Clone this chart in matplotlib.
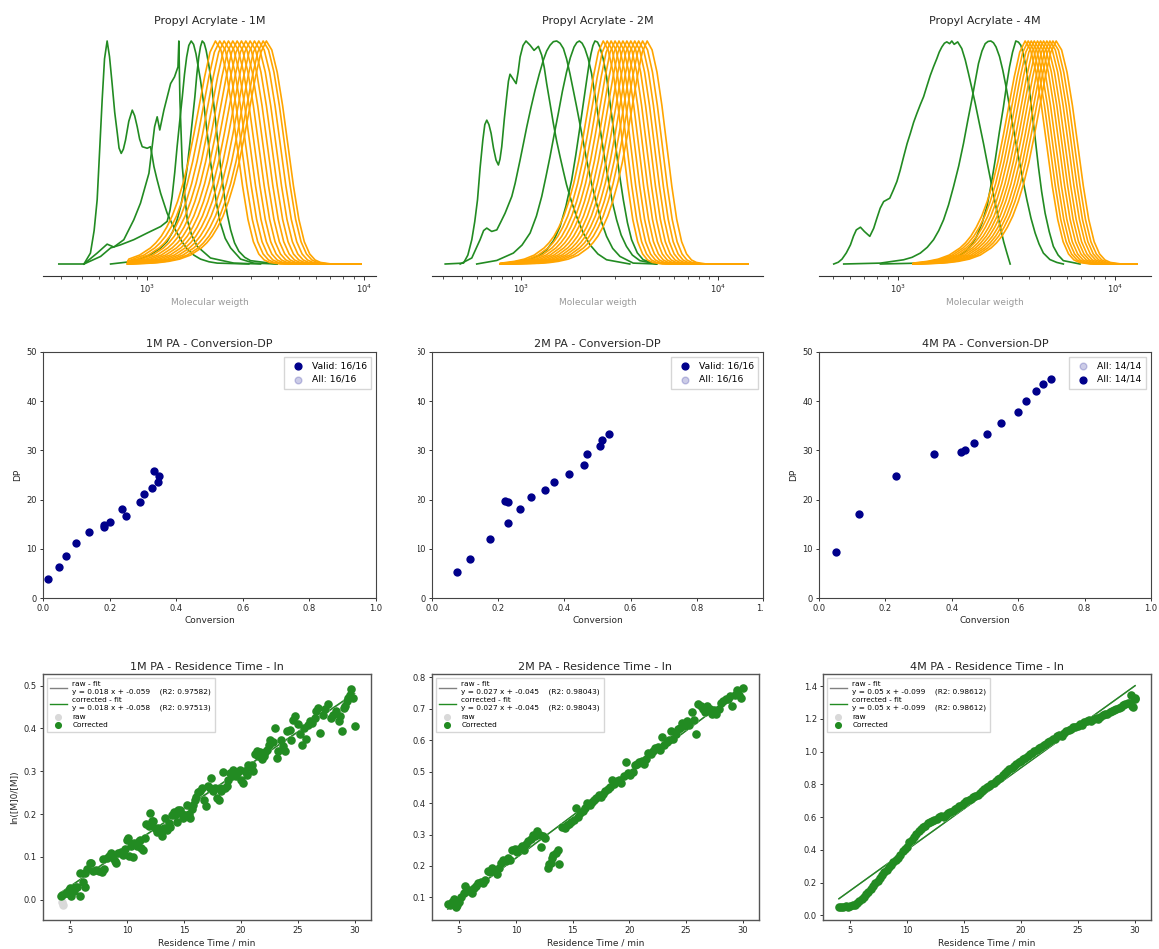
import numpy as np
import matplotlib
matplotlib.use("Agg")
import matplotlib.pyplot as plt
from matplotlib.ticker import NullFormatter, MultipleLocator
from matplotlib.patches import Rectangle

# ------------------------------------------------------------------ data
concs = ["1M", "2M", "4M"]

# --- GPC traces (x = log10 Mw, y = normalised height)
# common shape of the late (orange) traces, offsets in decades from peak
prof_off = [-0.80, -0.55, -0.50, -0.45, -0.40, -0.35, -0.30, -0.275, -0.25, -0.225, -0.20,
            -0.175, -0.15, -0.125, -0.10, -0.075, -0.05, -0.025, 0.0, 0.025, 0.05, 0.075,
            0.10, 0.125, 0.15, 0.175, 0.20, 0.225, 0.25, 0.30, 0.80]
prof_h = [0.0, 0.003, 0.006, 0.012, 0.022, 0.040, 0.072, 0.095, 0.125, 0.165, 0.215,
          0.28, 0.36, 0.46, 0.58, 0.71, 0.84, 0.95, 1.0, 0.96, 0.86, 0.71,
          0.53, 0.35, 0.20, 0.10, 0.045, 0.018, 0.007, 0.0, 0.0]

orange_peaks_1M = [3.315, 3.335, 3.355, 3.375, 3.395, 3.415, 3.435, 3.455, 3.475,
                   3.495, 3.515, 3.535, 3.550]
orange_peaks_2M = [3.417, 3.437, 3.457, 3.477, 3.497, 3.517, 3.537, 3.557, 3.577,
                   3.597, 3.617, 3.640]
orange_peaks_4M = [3.586, 3.600, 3.614, 3.628, 3.643, 3.657, 3.671, 3.686, 3.700,
                   3.714, 3.729]
orange_range_1M = [2.91, 3.985]
orange_range_2M = [2.894, 4.152]
orange_range_4M = [3.07, 4.10]

g1M_a = [(2.592, 0), (2.708, 0), (2.738, 0.049), (2.755, 0.15), (2.769, 0.288), (2.781, 0.52),
         (2.792, 0.735), (2.803, 0.92), (2.815, 1.0), (2.826, 0.93), (2.838, 0.809), (2.850, 0.68),
         (2.862, 0.586), (2.870, 0.52), (2.880, 0.496), (2.890, 0.515), (2.900, 0.556), (2.915, 0.64),
         (2.931, 0.690), (2.942, 0.665), (2.954, 0.615), (2.965, 0.56), (2.977, 0.526), (3.000, 0.519),
         (3.015, 0.526), (3.022, 0.49), (3.031, 0.437), (3.045, 0.38), (3.062, 0.317), (3.092, 0.228),
         (3.115, 0.18), (3.138, 0.139), (3.160, 0.10), (3.185, 0.067), (3.215, 0.04), (3.246, 0.022),
         (3.285, 0.01), (3.323, 0.004), (3.469, 0)]
g1M_b = [(2.708, 0), (2.769, 0.049), (2.815, 0.089), (2.846, 0.076), (2.892, 0.109),
         (2.938, 0.198), (2.969, 0.273), (3.008, 0.407), (3.022, 0.52), (3.034, 0.615), (3.046, 0.660),
         (3.058, 0.601), (3.077, 0.690), (3.108, 0.809), (3.126, 0.839), (3.142, 0.884),
         (3.146, 1.0), (3.151, 0.735), (3.162, 0.437), (3.175, 0.29), (3.185, 0.198), (3.205, 0.13),
         (3.231, 0.079), (3.292, 0.027), (3.400, 0.004), (3.523, 0)]
g1M_c = [(2.708, 0), (2.785, 0.034), (2.831, 0.072), (2.877, 0.086), (2.938, 0.109),
         (3.000, 0.139), (3.062, 0.168), (3.092, 0.191), (3.105, 0.24), (3.115, 0.303), (3.127, 0.41),
         (3.138, 0.526), (3.150, 0.64), (3.162, 0.750), (3.172, 0.85), (3.182, 0.928), (3.192, 0.98),
         (3.203, 1.0), (3.214, 0.985), (3.225, 0.943), (3.246, 0.824), (3.262, 0.71),
         (3.277, 0.586), (3.292, 0.46), (3.308, 0.347), (3.323, 0.255), (3.338, 0.183), (3.360, 0.115),
         (3.385, 0.072), (3.431, 0.022), (3.492, 0.004), (3.600, 0)]
g1M_d = [(2.831, 0), (2.938, 0.012), (3.015, 0.042), (3.060, 0.07), (3.092, 0.101), (3.118, 0.145),
         (3.138, 0.198), (3.155, 0.26), (3.169, 0.332), (3.184, 0.43), (3.197, 0.541), (3.209, 0.65),
         (3.220, 0.750), (3.229, 0.85), (3.238, 0.928), (3.246, 0.975), (3.254, 1.0), (3.263, 0.99),
         (3.272, 0.958), (3.283, 0.90), (3.295, 0.824), (3.309, 0.70), (3.323, 0.571), (3.338, 0.44),
         (3.354, 0.317), (3.370, 0.22), (3.385, 0.153), (3.403, 0.095),
         (3.423, 0.057), (3.450, 0.03), (3.477, 0.015), (3.600, 0)]

g2M_a = [(2.615, 0), (2.708, 0.004), (2.730, 0.04), (2.750, 0.109), (2.765, 0.19), (2.779, 0.288),
         (2.792, 0.43), (2.806, 0.556), (2.816, 0.625), (2.826, 0.645), (2.837, 0.625),
         (2.848, 0.586), (2.860, 0.52), (2.873, 0.466), (2.885, 0.444), (2.893, 0.47), (2.902, 0.526),
         (2.915, 0.65), (2.927, 0.750), (2.936, 0.82), (2.944, 0.851), (2.958, 0.832),
         (2.975, 0.809), (2.985, 0.86), (2.995, 0.928), (3.010, 0.98),
         (3.025, 1.0), (3.046, 0.981), (3.066, 0.958), (3.088, 0.976), (3.105, 0.936),
         (3.118, 0.88), (3.130, 0.809), (3.147, 0.72), (3.164, 0.630), (3.181, 0.55), (3.198, 0.481),
         (3.215, 0.415), (3.231, 0.355), (3.256, 0.28), (3.282, 0.213), (3.315, 0.14),
         (3.350, 0.086), (3.390, 0.045), (3.434, 0.019), (3.552, 0)]
g2M_b = [(2.691, 0), (2.750, 0.027), (2.792, 0.109), (2.810, 0.15), (2.826, 0.161), (2.851, 0.146),
         (2.877, 0.153), (2.898, 0.19), (2.919, 0.228), (2.953, 0.303), (2.970, 0.362), (2.995, 0.466),
         (3.012, 0.54), (3.029, 0.615), (3.050, 0.70), (3.071, 0.779), (3.092, 0.85), (3.113, 0.914),
         (3.130, 0.955), (3.147, 0.981), (3.164, 0.997), (3.181, 1.0), (3.198, 0.99),
         (3.215, 0.966), (3.231, 0.92), (3.248, 0.854), (3.265, 0.78), (3.282, 0.705), (3.308, 0.585),
         (3.333, 0.466), (3.358, 0.36), (3.383, 0.273), (3.408, 0.19),
         (3.434, 0.124), (3.465, 0.07), (3.502, 0.034), (3.569, 0.004), (3.688, 0)]
g2M_c = [(2.775, 0), (2.877, 0.016), (2.961, 0.049), (3.005, 0.085), (3.046, 0.139), (3.078, 0.215),
         (3.105, 0.303), (3.126, 0.39), (3.147, 0.481), (3.168, 0.58), (3.189, 0.675), (3.210, 0.775),
         (3.231, 0.861), (3.250, 0.925), (3.269, 0.973), (3.283, 0.993), (3.296, 1.0), (3.310, 0.99),
         (3.324, 0.966), (3.341, 0.92), (3.358, 0.854), (3.378, 0.74), (3.400, 0.615),
         (3.421, 0.49), (3.443, 0.377), (3.463, 0.28), (3.485, 0.198), (3.508, 0.13),
         (3.535, 0.079), (3.565, 0.04), (3.603, 0.015), (3.688, 0)]
g2M_d = [(2.894, 0), (3.046, 0.019), (3.090, 0.037), (3.130, 0.064), (3.165, 0.105), (3.198, 0.168),
         (3.228, 0.26), (3.257, 0.377), (3.278, 0.49), (3.299, 0.615), (3.316, 0.72),
         (3.333, 0.824), (3.344, 0.89), (3.355, 0.943), (3.365, 0.98), (3.375, 1.0), (3.388, 0.995),
         (3.400, 0.973), (3.417, 0.92), (3.434, 0.839), (3.455, 0.70), (3.476, 0.556), (3.498, 0.41),
         (3.519, 0.288), (3.540, 0.185), (3.561, 0.109), (3.590, 0.05), (3.620, 0.019), (3.688, 0)]

g4M_a = [(2.704, 0), (2.725, 0.008), (2.742, 0.022), (2.762, 0.05), (2.781, 0.086), (2.795, 0.125),
         (2.808, 0.153), (2.827, 0.165),
         (2.845, 0.146), (2.870, 0.124), (2.888, 0.16), (2.903, 0.206), (2.918, 0.25), (2.934, 0.280),
         (2.962, 0.295), (2.978, 0.33),
         (2.995, 0.370), (3.010, 0.42), (3.026, 0.481), (3.042, 0.54), (3.057, 0.586), (3.072, 0.635),
         (3.087, 0.675), (3.103, 0.715), (3.118, 0.750), (3.134, 0.80),
         (3.149, 0.846), (3.164, 0.885), (3.179, 0.921), (3.190, 0.95), (3.202, 0.973), (3.214, 0.99),
         (3.225, 0.996), (3.238, 0.988),
         (3.248, 1.0), (3.259, 0.985), (3.275, 0.996), (3.294, 0.966), (3.310, 0.915), (3.325, 0.854),
         (3.340, 0.79), (3.356, 0.720), (3.375, 0.63), (3.394, 0.541), (3.414, 0.44), (3.433, 0.347),
         (3.452, 0.255), (3.471, 0.168), (3.487, 0.10), (3.502, 0.049), (3.517, 0)]
g4M_b = [(2.750, 0), (2.919, 0.004), (3.026, 0.019), (3.065, 0.03), (3.103, 0.049), (3.135, 0.075),
         (3.164, 0.109), (3.188, 0.15),
         (3.210, 0.198), (3.233, 0.265), (3.256, 0.347), (3.280, 0.44), (3.302, 0.541), (3.321, 0.64),
         (3.340, 0.735), (3.356, 0.82), (3.371, 0.899), (3.387, 0.955),
         (3.402, 0.988), (3.415, 0.998), (3.428, 1.0), (3.440, 0.992), (3.452, 0.973), (3.468, 0.93),
         (3.483, 0.869), (3.500, 0.785), (3.517, 0.690), (3.536, 0.585),
         (3.555, 0.481), (3.575, 0.38), (3.594, 0.288), (3.613, 0.205), (3.632, 0.139), (3.650, 0.09),
         (3.670, 0.049), (3.700, 0.02), (3.732, 0.007), (3.762, 0)]
g4M_c = [(2.919, 0), (3.103, 0.004), (3.225, 0.019), (3.265, 0.03), (3.302, 0.049), (3.335, 0.08),
         (3.363, 0.124), (3.388, 0.185),
         (3.410, 0.258), (3.430, 0.36), (3.448, 0.466), (3.467, 0.59), (3.486, 0.705), (3.500, 0.80),
         (3.514, 0.884), (3.528, 0.95), (3.543, 1.0), (3.555, 0.995),
         (3.566, 0.981), (3.578, 0.94), (3.590, 0.884), (3.603, 0.80), (3.617, 0.690), (3.632, 0.565),
         (3.647, 0.437), (3.662, 0.325), (3.678, 0.228), (3.697, 0.145),
         (3.716, 0.079), (3.738, 0.04), (3.762, 0.015), (3.839, 0)]

green_traces = [[g1M_a, g1M_b, g1M_c, g1M_d], [g2M_a, g2M_b, g2M_c, g2M_d], [g4M_a, g4M_b, g4M_c]]
orange_peaks = [orange_peaks_1M, orange_peaks_2M, orange_peaks_4M]
orange_ranges = [orange_range_1M, orange_range_2M, orange_range_4M]
gpc_xlims = [(2.519, 4.056), (2.548, 4.228), (2.636, 4.166)]

# --- Conversion vs DP
conv_1M = [0.014, 0.047, 0.069, 0.099, 0.137, 0.182, 0.184, 0.202, 0.236, 0.248, 0.290, 0.302,
           0.328, 0.334, 0.346, 0.349]
dp_1M = [3.9, 6.4, 8.6, 11.2, 13.4, 14.5, 14.9, 15.4, 18.0, 16.7, 19.5, 21.1, 22.4, 25.8, 23.6, 24.7]
conv_2M = [0.077, 0.115, 0.175, 0.229, 0.222, 0.231, 0.265, 0.299, 0.340, 0.368, 0.414, 0.458,
           0.469, 0.508, 0.514, 0.536]
dp_2M = [5.35, 8.0, 11.9, 15.3, 19.8, 19.5, 18.0, 20.6, 22.0, 23.6, 25.3, 27.0, 29.2, 30.8, 32.2, 33.4]
conv_4M = [0.051, 0.120, 0.232, 0.346, 0.429, 0.439, 0.466, 0.507, 0.549, 0.599, 0.623, 0.653,
           0.676, 0.700]
dp_4M = [9.35, 17.1, 24.7, 29.3, 29.6, 30.1, 31.5, 33.3, 35.6, 37.9, 40.1, 42.1, 43.5, 44.6]
conv_data = [(conv_1M, dp_1M), (conv_2M, dp_2M), (conv_4M, dp_4M)]
conv_legend = [("Valid: 16/16", "All: 16/16"), ("Valid: 16/16", "All: 16/16"), ("All: 14/14", "All: 14/14")]

# --- Residence time vs ln([M]0/[M])
rt_1M = [(4.15, 0.010), (4.3, 0.012), (4.6, 0.015), (4.7, 0.016), (4.9, 0.022), (5.0, 0.028),
         (5.1, 0.008), (5.3, 0.020), (5.4, 0.031), (5.6, 0.030), (5.85, 0.062), (5.85, 0.008),
         (6.1, 0.042), (6.3, 0.031), (6.3, 0.062), (6.5, 0.072), (6.7, 0.087), (6.85, 0.085),
         (7.0, 0.068), (7.3, 0.070), (7.5, 0.068), (7.75, 0.066), (7.9, 0.095), (8.0, 0.072),
         (8.2, 0.097), (8.4, 0.102), (8.6, 0.109), (8.75, 0.098), (8.9, 0.090), (9.05, 0.086),
         (9.2, 0.109), (9.45, 0.112), (9.65, 0.105), (9.8, 0.118), (9.95, 0.140), (10.05, 0.145),
         (10.2, 0.102), (10.35, 0.125), (10.5, 0.101), (10.6, 0.132), (10.85, 0.125), (11.0, 0.138),
         (11.1, 0.140), (11.25, 0.122), (11.4, 0.117), (11.55, 0.145), (11.7, 0.178), (11.9, 0.172),
         (12.0, 0.202), (12.15, 0.185), (12.3, 0.183), (12.45, 0.168), (12.6, 0.158), (12.75, 0.167),
         (12.9, 0.162), (13.05, 0.148), (13.2, 0.168), (13.35, 0.190), (13.5, 0.164), (13.65, 0.180),
         (13.8, 0.171), (13.95, 0.198), (14.1, 0.205), (14.2, 0.199), (14.4, 0.182), (14.5, 0.210),
         (14.65, 0.210), (14.8, 0.200), (14.95, 0.190), (15.1, 0.198), (15.25, 0.222), (15.4, 0.200),
         (15.55, 0.192), (15.7, 0.212), (15.8, 0.222), (15.95, 0.232), (16.1, 0.241), (16.25, 0.252),
         (16.4, 0.253), (16.55, 0.262), (16.8, 0.234), (16.95, 0.218), (17.1, 0.265), (17.25, 0.262),
         (17.4, 0.284), (17.55, 0.255), (17.7, 0.261), (17.9, 0.238), (18.05, 0.232), (18.15, 0.262),
         (18.3, 0.253), (18.45, 0.298), (18.6, 0.262), (18.75, 0.265), (18.9, 0.280), (19.05, 0.296),
         (19.2, 0.290), (19.35, 0.302), (19.6, 0.288), (19.75, 0.298), (19.9, 0.304), (20.05, 0.280),
         (20.2, 0.273), (20.35, 0.300), (20.5, 0.292), (20.65, 0.315), (20.8, 0.310), (21.0, 0.315),
         (21.1, 0.300), (21.25, 0.340), (21.4, 0.347), (21.55, 0.335), (21.7, 0.345), (21.85, 0.328),
         (22.0, 0.335), (22.15, 0.345), (22.3, 0.350), (22.45, 0.362), (22.6, 0.374), (22.8, 0.368),
         (23.0, 0.401), (23.15, 0.330), (23.3, 0.348), (23.5, 0.374), (23.7, 0.358), (23.9, 0.347),
         (24.1, 0.395), (24.3, 0.397), (24.45, 0.372), (24.6, 0.420), (24.8, 0.428), (25.0, 0.410),
         (25.2, 0.386), (25.4, 0.362), (25.55, 0.400), (25.7, 0.375), (25.95, 0.409), (26.1, 0.418),
         (26.3, 0.412), (26.5, 0.424), (26.65, 0.440), (26.8, 0.448), (27.0, 0.389), (27.2, 0.432),
         (27.4, 0.445), (27.7, 0.456), (27.9, 0.425), (28.15, 0.432), (28.4, 0.440), (28.6, 0.417),
         (28.7, 0.428), (28.9, 0.393), (29.05, 0.448), (29.2, 0.452), (29.3, 0.463), (29.45, 0.470),
         (29.6, 0.477), (29.65, 0.491), (29.85, 0.471), (30.0, 0.405)]
rt_1M_raw_extra = [(4.25, -0.004), (4.4, -0.012)]

rt_2M = [(4.0, 0.080), (4.2, 0.075), (4.4, 0.085), (4.5, 0.095), (4.7, 0.070), (4.8, 0.075),
         (5.0, 0.085), (5.2, 0.100), (5.4, 0.115), (5.5, 0.135), (5.7, 0.120), (5.9, 0.125),
         (6.1, 0.115), (6.3, 0.130), (6.5, 0.135), (6.7, 0.145), (6.9, 0.150), (7.1, 0.145),
         (7.3, 0.155), (7.5, 0.185), (7.7, 0.180), (7.9, 0.195), (8.1, 0.185), (8.3, 0.175),
         (8.5, 0.195), (8.7, 0.210), (8.9, 0.220), (9.1, 0.215), (9.3, 0.225), (9.5, 0.220),
         (9.7, 0.250), (9.9, 0.255), (10.1, 0.245), (10.3, 0.255), (10.5, 0.265), (10.7, 0.250),
         (10.9, 0.270), (11.1, 0.280), (11.3, 0.285), (11.5, 0.300), (11.7, 0.295), (11.9, 0.310),
         (12.1, 0.300), (12.2, 0.260), (12.4, 0.295), (12.6, 0.290), (12.8, 0.195), (12.9, 0.205),
         (13.1, 0.210), (13.2, 0.225), (13.3, 0.235), (13.5, 0.240), (13.7, 0.250), (13.8, 0.205),
         (14.1, 0.325), (14.3, 0.320), (14.5, 0.330), (14.7, 0.335), (14.9, 0.340), (15.1, 0.345),
         (15.3, 0.385), (15.5, 0.355), (15.7, 0.370), (15.9, 0.375), (16.1, 0.385), (16.3, 0.400),
         (16.5, 0.395), (16.7, 0.405), (16.9, 0.410), (17.1, 0.415), (17.3, 0.425), (17.5, 0.420),
         (17.7, 0.430), (17.9, 0.440), (18.1, 0.445), (18.3, 0.450), (18.5, 0.475), (18.7, 0.460),
         (18.9, 0.470), (19.1, 0.475), (19.3, 0.465), (19.5, 0.485), (19.7, 0.530), (19.9, 0.495),
         (20.1, 0.490), (20.3, 0.500), (20.5, 0.520), (20.7, 0.525), (20.9, 0.530), (21.1, 0.535),
         (21.3, 0.525), (21.5, 0.540), (21.7, 0.560), (21.9, 0.555), (22.1, 0.565), (22.3, 0.575),
         (22.5, 0.580), (22.7, 0.570), (22.9, 0.610), (23.1, 0.585), (23.3, 0.595), (23.5, 0.600),
         (23.7, 0.630), (23.9, 0.605), (24.1, 0.620), (24.3, 0.635), (24.5, 0.640), (24.7, 0.655),
         (24.9, 0.645), (25.1, 0.660), (25.3, 0.650), (25.5, 0.690), (25.7, 0.665), (25.9, 0.620),
         (26.1, 0.715), (26.3, 0.710), (26.5, 0.700), (26.7, 0.690), (26.9, 0.710), (27.1, 0.700),
         (27.3, 0.685), (27.5, 0.695), (27.7, 0.685), (27.9, 0.700), (28.1, 0.720), (28.3, 0.725),
         (28.5, 0.730), (28.7, 0.730), (28.9, 0.740), (29.1, 0.710), (29.3, 0.745), (29.5, 0.760),
         (29.7, 0.745), (29.9, 0.735), (30.0, 0.765)]

rt_4M = [(4.0, 0.048), (4.2, 0.052), (4.4, 0.050), (4.6, 0.055), (4.8, 0.053), (5.0, 0.056),
         (5.2, 0.060), (5.4, 0.063), (5.6, 0.072), (5.8, 0.085), (6.0, 0.097), (6.2, 0.112),
         (6.4, 0.128), (6.6, 0.145), (6.8, 0.160), (7.0, 0.178), (7.2, 0.200), (7.4, 0.212),
         (7.6, 0.225), (7.8, 0.248), (8.0, 0.262), (8.2, 0.278), (8.4, 0.295), (8.6, 0.310),
         (8.8, 0.325), (9.0, 0.340), (9.2, 0.352), (9.4, 0.370), (9.6, 0.395), (9.8, 0.405),
         (10.0, 0.420), (10.2, 0.445), (10.4, 0.462), (10.6, 0.480), (10.8, 0.498), (11.0, 0.515),
         (11.2, 0.528), (11.4, 0.540), (11.6, 0.548), (11.8, 0.562), (12.0, 0.570), (12.2, 0.575),
         (12.4, 0.585), (12.6, 0.590), (12.8, 0.600), (13.0, 0.605), (13.2, 0.598), (13.4, 0.610),
         (13.6, 0.625), (13.8, 0.632), (14.0, 0.640), (14.2, 0.650), (14.4, 0.655), (14.6, 0.668),
         (14.8, 0.675), (15.0, 0.685), (15.2, 0.700), (15.4, 0.705), (15.6, 0.712), (15.8, 0.722),
         (16.0, 0.730), (16.2, 0.738), (16.4, 0.748), (16.6, 0.760), (16.8, 0.770), (17.0, 0.785),
         (17.2, 0.790), (17.4, 0.800), (17.6, 0.808), (17.8, 0.820), (18.0, 0.830), (18.2, 0.842),
         (18.4, 0.855), (18.6, 0.870), (18.8, 0.880), (19.0, 0.895), (19.2, 0.900), (19.4, 0.912),
         (19.6, 0.925), (19.8, 0.940), (20.0, 0.945), (20.2, 0.955), (20.4, 0.962), (20.6, 0.975),
         (20.8, 0.985), (21.0, 0.995), (21.2, 1.005), (21.4, 1.012), (21.6, 1.025), (21.8, 1.030),
         (22.0, 1.040), (22.2, 1.048), (22.4, 1.060), (22.6, 1.068), (22.8, 1.075), (23.0, 1.080),
         (23.2, 1.098), (23.4, 1.105), (23.6, 1.095), (23.8, 1.115), (24.0, 1.125), (24.2, 1.130),
         (24.4, 1.140), (24.6, 1.150), (24.8, 1.148), (25.0, 1.160), (25.2, 1.170), (25.4, 1.165),
         (25.6, 1.180), (25.8, 1.190), (26.0, 1.195), (26.2, 1.185), (26.4, 1.200), (26.6, 1.205),
         (26.8, 1.198), (27.0, 1.215), (27.2, 1.225), (27.4, 1.232), (27.6, 1.228), (27.8, 1.240),
         (28.0, 1.248), (28.2, 1.255), (28.4, 1.262), (28.6, 1.270), (28.8, 1.275), (29.0, 1.285),
         (29.2, 1.290), (29.4, 1.300), (29.6, 1.295), (29.7, 1.345), (29.8, 1.280), (29.9, 1.275),
         (30.0, 1.320), (30.05, 1.330)]

rt_data = [rt_1M, rt_2M, rt_4M]
raw_fit = [(0.018, -0.059, 0.97582), (0.027, -0.045, 0.98043), (0.05, -0.099, 0.98612)]
cor_fit = [(0.018, -0.058, 0.97513), (0.027, -0.045, 0.98043), (0.05, -0.099, 0.98612)]
rt_ylims = [(-0.047, 0.527), (0.028, 0.811), (-0.029, 1.475)]
rt_yticks = [[0.0, 0.1, 0.2, 0.3, 0.4, 0.5],
             [0.1, 0.2, 0.3, 0.4, 0.5, 0.6, 0.7, 0.8],
             [0.0, 0.2, 0.4, 0.6, 0.8, 1.0, 1.2, 1.4]]

# ------------------------------------------------------------------ style
ORANGE = "#FFA500"
GREEN = "#228B22"
NAVY = "#00008B"
TXT = "#262626"

W, H = 1159, 949
fig = plt.figure(figsize=(W / 100, H / 100), dpi=100)


def px_axes(x0, x1, y0, y1):
    return fig.add_axes([x0 / W, 1 - y1 / H, (x1 - x0) / W, (y1 - y0) / H])


def tick_style(ax, size=6):
    ax.tick_params(axis="both", which="major", labelsize=size, length=2.5, pad=2,
                   width=0.7, colors="#333333", labelcolor=TXT)


cols_top = [(43, 376), (432, 763), (819, 1151)]
cols_bot = [(43, 371), (432, 759), (823, 1151)]

# ---------------- row 1: GPC traces
for i in range(3):
    ax = px_axes(cols_top[i][0], cols_top[i][1], 30, 276)
    for tr in green_traces[i]:
        lx = np.array([p[0] for p in tr])
        hy = np.array([p[1] for p in tr])
        ax.plot(10 ** lx, hy, color=GREEN, lw=1.2)
    lo, hi = orange_ranges[i]
    for pk in orange_peaks[i]:
        lx = np.clip(pk + np.array(prof_off), lo, hi)
        ax.plot(10 ** lx, prof_h, color=ORANGE, lw=1.2)
    ax.set_xscale("log")
    ax.set_xlim(10 ** gpc_xlims[i][0], 10 ** gpc_xlims[i][1])
    ax.set_ylim(-0.0538, 1.0493)
    for s in ("left", "right", "top"):
        ax.spines[s].set_visible(False)
    ax.spines["bottom"].set_color("#333333")
    ax.spines["bottom"].set_linewidth(0.8)
    ax.set_yticks([])
    ax.xaxis.set_minor_formatter(NullFormatter())
    ax.tick_params(axis="x", which="major", labelsize=6, length=3, pad=2, width=0.7,
                   colors="#333333", labelcolor=TXT)
    ax.tick_params(axis="x", which="minor", length=1.8, width=0.6, colors="#333333")
    ax.set_title(f"Propyl Acrylate - {concs[i]}", fontsize=8, color=TXT, pad=4.5)
    ax.set_xlabel("Molecular weigth", fontsize=6.5, color="#999999", labelpad=2)

# ---------------- row 2: Conversion - DP
for i in range(3):
    ax = px_axes(cols_top[i][0], cols_top[i][1], 352, 598)
    cx, dy = conv_data[i]
    lab_a, lab_b = conv_legend[i]
    if i < 2:
        ax.scatter(cx, dy, s=24, color=NAVY, label=lab_a, zorder=3)
        ax.scatter(cx, dy, s=24, color=NAVY, alpha=0.2, label=lab_b, zorder=2)
    else:
        ax.scatter(cx, dy, s=24, color=NAVY, alpha=0.2, label=lab_a, zorder=2)
        ax.scatter(cx, dy, s=24, color=NAVY, label=lab_b, zorder=3)
    ax.set_xlim(0, 1)
    ax.set_ylim(0, 50)
    ax.xaxis.set_major_locator(MultipleLocator(0.2))
    ax.yaxis.set_major_locator(MultipleLocator(10))
    tick_style(ax)
    for s in ax.spines.values():
        s.set_color("#444444")
        s.set_linewidth(0.8)
    ax.set_title(f"{concs[i]} PA - Conversion-DP", fontsize=8, color=TXT, pad=3.5)
    ax.set_xlabel("Conversion", fontsize=6.5, color=TXT, labelpad=2)
    if i != 1:
        ax.set_ylabel("DP", fontsize=6.5, color=TXT, labelpad=3)
    ax.legend(loc="upper right", fontsize=6.7, handletextpad=0.5, borderpad=0.5,
              framealpha=0.8, edgecolor="#cccccc", fancybox=False)

# ---------------- row 3: residence time
for i in range(3):
    ax = px_axes(cols_bot[i][0], cols_bot[i][1], 674, 920)
    pts = rt_data[i]
    tx = np.array([p[0] for p in pts])
    ly = np.array([p[1] for p in pts])
    fx = np.array([tx.min(), tx.max()])
    rs, rb, rr = raw_fit[i]
    cs, cb, cr = cor_fit[i]
    ax.plot(fx, rs * fx + rb, color="#808080", lw=1.0,
            label=f"raw - fit\ny = {rs} x + {rb}    (R2: {rr})")
    ax.plot(fx, cs * fx + cb, color=GREEN, lw=1.0,
            label=f"corrected - fit\ny = {cs} x + {cb}    (R2: {cr})")
    rx = list(tx)
    ry = list(ly)
    if i == 0:
        rx += [p[0] for p in rt_1M_raw_extra]
        ry += [p[1] for p in rt_1M_raw_extra]
    ax.scatter(rx, ry, s=26, color="#d9d9d9", label="raw", zorder=2)
    ax.scatter(tx, ly, s=26, color=GREEN, label="Corrected", zorder=3)
    ax.set_xlim(2.6, 31.45)
    ax.set_ylim(*rt_ylims[i])
    ax.set_yticks(rt_yticks[i])
    ax.xaxis.set_major_locator(MultipleLocator(5))
    tick_style(ax)
    for s in ax.spines.values():
        s.set_color("#555555")
        s.set_linewidth(1.0)
    ax.set_title(f"{concs[i]} PA - Residence Time - ln", fontsize=8, color=TXT, pad=3)
    ax.set_xlabel("Residence Time / min", fontsize=6.5, color=TXT, labelpad=2)
    if i == 0:
        ax.set_ylabel("ln([M]0/[M])", fontsize=6.5, color=TXT, labelpad=3)
    ax.legend(loc="upper left", fontsize=5.3, handlelength=2.2, handletextpad=0.8,
              borderpad=0.5, labelspacing=0.35, framealpha=0.8, edgecolor="#cccccc",
              fancybox=False, markerscale=0.8)

# white strips where neighbouring panels overlapped in the original composite
for (x0, x1, y0, y1) in [(385, 418, 330, 640), (764, 790, 600, 628)]:
    fig.add_artist(Rectangle((x0 / W, 1 - y1 / H), (x1 - x0) / W, (y1 - y0) / H,
                             transform=fig.transFigure, facecolor="white",
                             edgecolor="none", zorder=10))

fig.savefig("out.png", dpi=100, facecolor="white")
